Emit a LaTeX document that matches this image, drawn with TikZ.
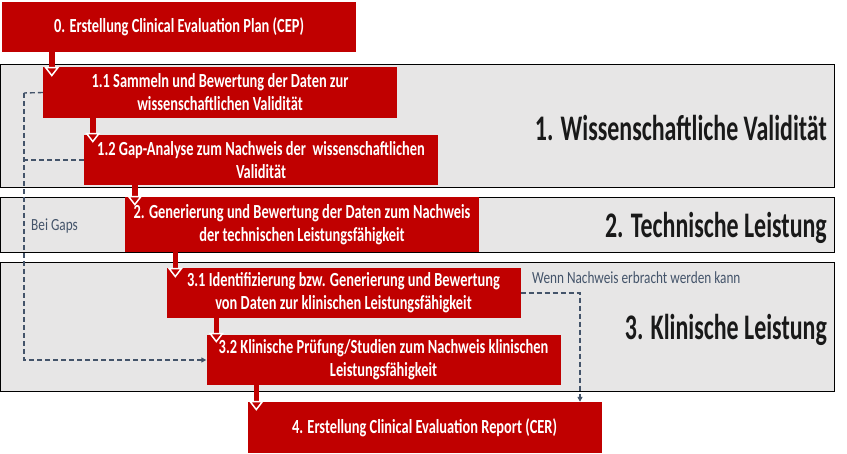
\documentclass[tikz,border=0pt]{standalone}
\usepackage{fontspec}
\setmainfont[FakeStretch=0.72]{Carlito}
\newfontfamily\labelfont[FakeStretch=0.665]{Carlito}
\newfontfamily\notefont[FakeStretch=0.78]{Carlito}
\usetikzlibrary{arrows.meta,calc}
\definecolor{boxred}{HTML}{C00000}
\definecolor{bandgray}{HTML}{E7E6E6}
\definecolor{slate}{HTML}{44546A}
\tikzset{
  band/.style={draw=black,line width=1pt,fill=bandgray},
  redbox/.style={fill=boxred,text=white,minimum width=354pt,minimum height=50pt,inner sep=0pt,align=center,font=\fontsize{20}{23}\selectfont\bfseries},
  bandlabel/.style={anchor=east,text=black!90,font=\labelfont\fontsize{36}{40}\selectfont\bfseries,inner sep=0pt},
  redarr/.style={draw=boxred,line width=5.5pt,-{Triangle[length=10pt,width=15pt,color=white,fill=boxred,line width=1.5pt]}},
  gapline/.style={draw=slate,line width=1.4pt,dash pattern=on 5pt off 3pt},
  gaparr/.style={gapline,-{Triangle[length=5pt,width=5pt,fill=slate]}},
  note/.style={text=slate,font=\notefont\fontsize{17}{20}\selectfont,inner sep=0pt}
}
\begin{document}
\begin{tikzpicture}[x=1pt,y=-1pt]
\useasboundingbox (0,0) rectangle (847,454);
\fill[white] (0,0) rectangle (847,454);
% bands
\draw[band] (0.5,65) rectangle (834,188);
\draw[band] (0.5,198) rectangle (834,253);
\draw[band] (0.5,263) rectangle (834,392);
\node[bandlabel] (l1) at (827,128) {1. Wissenschaftliche Validität};
\node[bandlabel] (l2) at (827,228) {2. Technische Leistung};
\node[bandlabel] (l3) at (827,330) {3. Klinische Leistung};
% boxes
\node[redbox] (b0) at (179,27) {0. Erstellung Clinical Evaluation Plan (CEP)};
\node[redbox,minimum height=51pt] (b11) at (220,92.5) {1.1 Sammeln und Bewertung der Daten zur\\wissenschaftlichen Validität};
\node[redbox] (b12) at (261,160) {1.2 Gap-Analyse zum Nachweis der~~wissenschaftlichen\\Validität};
\node[redbox,minimum height=55pt] (b2) at (302,224.5) {2. Generierung und Bewertung der Daten zum Nachweis\\der technischen Leistungsfähigkeit};
\node[redbox] (b31) at (343.5,293) {3.1 Identifizierung bzw. Generierung und Bewertung\\von Daten zur klinischen Leistungsfähigkeit};
\node[redbox] (b32) at (383.5,360) {3.2 Klinische Prüfung/Studien zum Nachweis klinischen\\Leistungsfähigkeit};
\node[redbox,minimum height=51pt] (b4) at (424.5,427.5) {4. Erstellung Clinical Evaluation Report (CER)};
% red arrows
\draw[redarr] (b0.south -| {$(b11.north west)+(9,0)$}) -- ($(b11.north west)+(9,10)$);
\draw[redarr] (b11.south -| {$(b12.north west)+(9,0)$}) -- ($(b12.north west)+(9,8)$);
\draw[redarr] (b12.south -| {$(b2.north west)+(10,0)$}) -- ($(b2.north west)+(10,9)$);
\draw[redarr] (b2.south -| {$(b31.north west)+(9,0)$}) -- ($(b31.north west)+(9,10)$);
\draw[redarr] (b31.south -| {$(b32.north west)+(10,0)$}) -- ($(b32.north west)+(10,8)$);
\draw[redarr] (b32.south -| {$(b4.north west)+(9,0)$}) -- ($(b4.north west)+(9,9)$);
% dashed connectors
\coordinate (gtop) at (24,93);
\draw[gapline] (b11.west) -- (gtop);
\draw[gapline] (b12.west) -- (gtop |- b12.west);
\draw[gaparr] (gtop) -- (gtop |- b32.west) -- (b32.west);
\node[note,anchor=west] (bg) at (31,226) {Bei Gaps};
\coordinate (wc) at (580,293);
\draw[gaparr] (b31.east) -- (wc) -- (wc |- b4.north);
\node[note,anchor=west] (wn) at (532,278) {Wenn Nachweis erbracht werden kann};
\end{tikzpicture}
\end{document}
